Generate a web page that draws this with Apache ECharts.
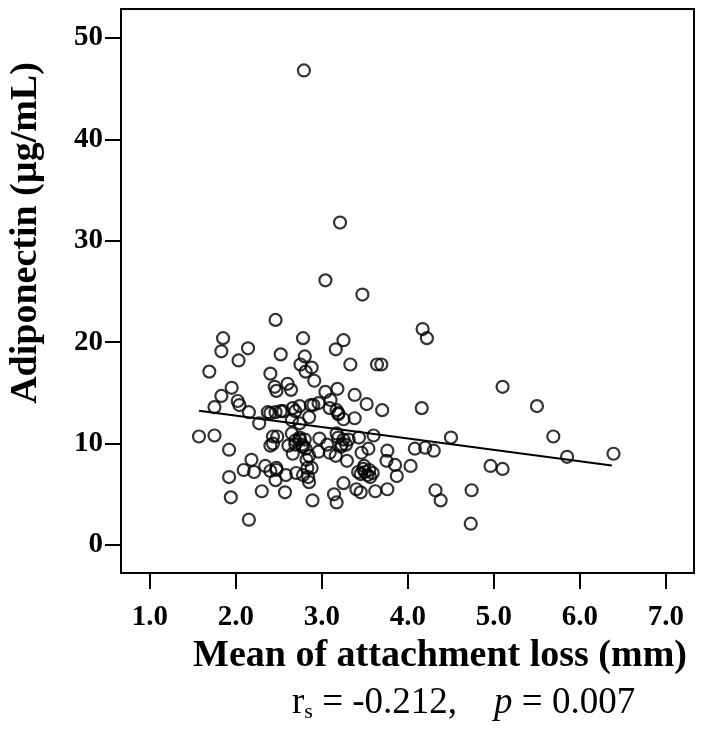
<!DOCTYPE html>
<html>
<head>
<meta charset="utf-8">
<script src="https://cdn.jsdelivr.net/npm/echarts@6/dist/echarts.min.js"></script>
<style>
  html, body { margin: 0; padding: 0; background: #fff; }
  #chart { width: 713px; height: 734px; }
</style>
</head>
<body>
<div id="chart"></div>
<script>
// mean attachment loss (mm)
const attachLoss = [
  2.79, 3.21, 3.04, 3.47, 2.46, 4.17, 4.22, 1.85, 2.78, 3.25,
  2.14, 3.16, 1.83, 2.52, 2.80, 2.03, 3.64, 3.69, 3.33, 2.75,
  2.88, 2.81, 1.69, 2.40, 2.91, 2.60, 2.45, 5.10, 1.95, 3.18,
  2.64, 3.04, 2.47, 1.83, 3.38, 3.10, 2.02, 2.04, 5.50, 3.52,
  1.75, 4.16, 3.70, 2.74, 2.87, 2.96, 3.17, 2.69, 2.55, 2.37,
  2.15, 2.46, 3.38, 2.85, 3.25, 2.65, 2.27, 2.74, 1.57, 1.75,
  4.50, 5.69, 3.60, 3.43, 2.97, 3.19, 3.25, 2.43, 2.48, 2.74,
  2.69, 2.80, 2.40, 2.61, 3.28, 3.54, 4.08, 4.20, 4.30, 1.92,
  2.96, 3.09, 3.46, 3.76, 2.66, 3.16, 5.85, 6.39, 2.18, 3.29,
  3.75, 2.82, 2.34, 2.47, 3.49, 3.85, 4.03, 4.96, 5.10, 2.09,
  2.21, 2.40, 2.88, 3.42, 3.55, 3.59, 3.87, 2.58, 2.70, 2.78,
  1.92, 2.46, 2.85, 3.25, 2.30, 2.57, 3.40, 3.45, 3.62, 3.76,
  4.32, 4.74, 3.14, 1.94, 2.89, 3.17, 4.38, 2.15, 4.73,
  2.52, 2.77, 2.81, 2.85, 3.22, 3.19, 3.31, 3.53, 3.56, 3.06,
  2.65, 2.74, 2.69, 2.78, 3.17, 3.23, 2.43, 2.83, 2.84, 2.47,
  3.45, 3.50, 3.48, 2.40, 2.66, 2.90, 3.09, 3.19
]
// adiponectin (µg/mL)
const adiponectin = [
  46.8, 31.8, 26.1, 24.7, 22.2, 21.3, 20.4, 20.4, 20.4, 20.2,
  19.4, 19.3, 19.1, 18.8, 18.6, 18.2, 17.8, 17.8, 17.8, 17.8,
  17.5, 17.1, 17.1, 16.9, 16.2, 15.9, 15.6, 15.6, 15.5, 15.4,
  15.3, 15.1, 15.2, 14.7, 14.8, 14.3, 14.2, 13.8, 13.7, 13.9,
  13.6, 13.5, 13.3, 13.7, 13.8, 14.0, 13.3, 13.2, 13.2, 13.1,
  13.1, 13.1, 12.5, 12.6, 12.4, 12.3, 12.0, 12.0, 10.7, 10.8,
  10.6, 10.7, 10.8, 10.6, 10.5, 10.6, 10.4, 10.7, 10.7, 10.6,
  10.3, 10.4, 9.8, 9.8, 9.9, 9.5, 9.5, 9.6, 9.3, 9.4,
  9.2, 9.1, 9.1, 9.3, 9.0, 8.8, 8.7, 9.0, 8.4, 8.3,
  8.3, 8.4, 7.8, 7.6, 7.8, 7.9, 7.8, 7.8, 7.5, 7.4,
  7.2, 7.3, 7.6, 7.2, 7.4, 7.1, 6.8, 6.9, 7.1, 6.9,
  6.7, 6.4, 6.2, 6.1, 5.3, 5.2, 5.5, 5.2, 5.3, 5.5,
  5.4, 5.4, 5.0, 4.7, 4.4, 4.2, 4.4, 2.5, 2.1,
  13.2, 9.9, 9.5, 8.8, 9.7, 12.9, 10.4, 6.9, 6.7, 9.9,
  11.0, 10.4, 9.9, 9.7, 11.0, 9.9, 10.0, 7.6, 6.7, 7.4,
  7.0, 7.2, 7.5, 13.0, 13.5, 13.8, 13.5, 13.0
]
// fitted line end points
const fitX = [1.57, 6.37]
const fitY = [13.25, 7.85]
const xTicks = [1, 2, 3, 4, 5, 6, 7]
const yTicks = [0, 10, 20, 30, 40, 50]

const points = attachLoss.map((x, i) => [x, adiponectin[i]])
const fitLine = fitX.map((x, i) => [x, fitY[i]])

const serif = '"Liberation Serif", "DejaVu Serif", serif'
const chart = echarts.init(document.getElementById('chart'))

chart.setOption({
  backgroundColor: '#fff',
  animation: false,
  grid: {
    left: 121,
    right: 19,
    top: 9,
    bottom: 161,
    show: true,
    borderColor: '#000',
    borderWidth: 2
  },
  xAxis: {
    type: 'value',
    min: 0.663,
    max: 7.326,
    splitLine: { show: false },
    axisLine: { show: true, onZero: false, lineStyle: { color: '#000', width: 2 } },
    axisTick: { show: true, length: 16, customValues: xTicks, lineStyle: { color: '#000', width: 2 } },
    axisLabel: {
      customValues: xTicks,
      formatter: v => v.toFixed(1),
      margin: 30,
      color: '#000',
      fontFamily: serif,
      fontWeight: 'bold',
      fontSize: 29
    }
  },
  yAxis: {
    type: 'value',
    min: -2.76,
    max: 52.86,
    splitLine: { show: false },
    axisLine: { show: true, onZero: false, lineStyle: { color: '#000', width: 2 } },
    axisTick: { show: true, length: 16, customValues: yTicks, lineStyle: { color: '#000', width: 2 } },
    axisLabel: {
      customValues: yTicks,
      margin: 18,
      color: '#000',
      fontFamily: serif,
      fontWeight: 'bold',
      fontSize: 29
    }
  },
  series: [
    {
      type: 'scatter',
      data: points,
      symbol: 'circle',
      symbolSize: 12,
      itemStyle: { color: 'rgba(255,255,255,0)', borderColor: '#000', borderWidth: 2.2 }
    },
    {
      type: 'line',
      data: fitLine,
      showSymbol: false,
      lineStyle: { color: '#000', width: 2 }
    }
  ],
  graphic: [
    {
      type: 'text',
      x: 440,
      y: 656,
      style: {
        text: 'Mean of attachment loss (mm)',
        font: 'bold 38px ' + serif,
        fill: '#000',
        textAlign: 'center',
        textVerticalAlign: 'middle'
      }
    },
    {
      type: 'text',
      x: 26,
      y: 233,
      rotation: Math.PI / 2,
      style: {
        text: 'Adiponectin (µg/mL)',
        font: 'bold 38px ' + serif,
        fill: '#000',
        textAlign: 'center',
        textVerticalAlign: 'middle'
      }
    },
    {
      type: 'text',
      x: 292,
      y: 703,
      style: {
        text: 'r{s|s} = -0.212,    {i|p} = 0.007',
        fontFamily: serif,
        fontSize: 37,
        fill: '#000',
        textVerticalAlign: 'middle',
        rich: {
          s: { fontFamily: serif, fontSize: 22, padding: [19, 0, 0, 0] },
          i: { fontFamily: serif, fontSize: 37, fontStyle: 'italic' }
        }
      }
    }
  ]
})
</script>
</body>
</html>
